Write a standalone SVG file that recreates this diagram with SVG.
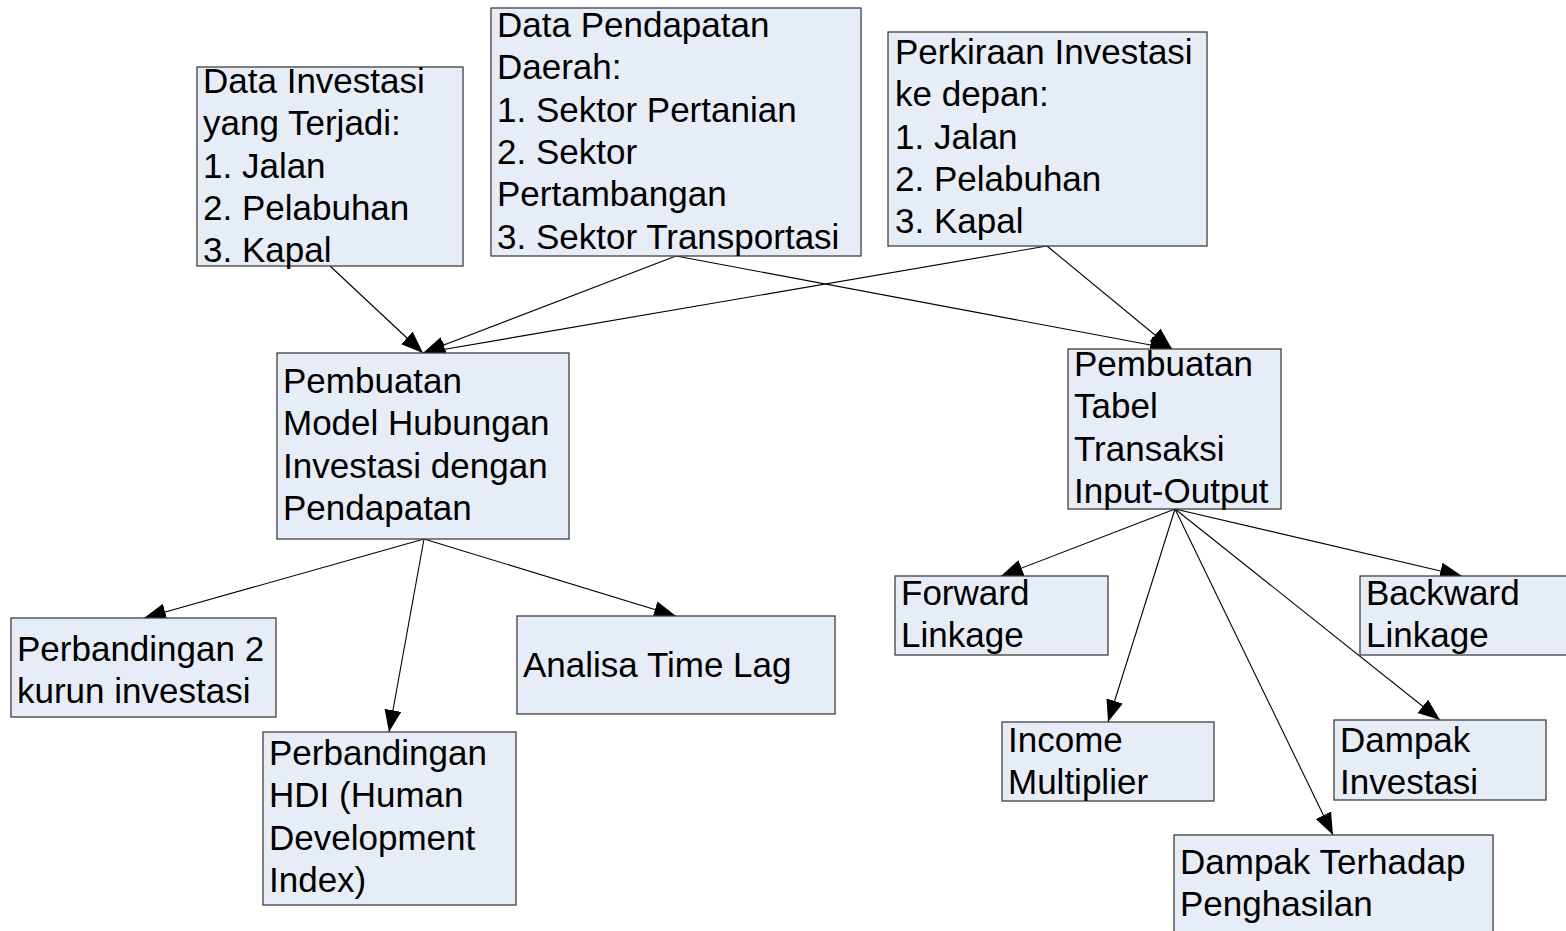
<svg xmlns="http://www.w3.org/2000/svg" width="1566" height="931" viewBox="0 0 1566 931">
  <style>
    .box { fill: #E7EDF7; stroke: #3F3F3F; stroke-width: 1.3; }
    .lbl { font-family: "Liberation Sans", Arial, sans-serif; font-size: 35px; fill: #000; }
    .edge { fill: none; stroke: #000; stroke-width: 1.1; marker-end: url(#head); }
  </style>
  <defs>
    <marker id="head" markerUnits="userSpaceOnUse" markerWidth="24" markerHeight="18" refX="22" refY="8.5" orient="auto">
      <path d="M0,0 L22,8.5 L0,17 Z" fill="#000"/>
    </marker>
  </defs>
  <rect width="1566" height="931" fill="#FFFFFF"/>

  <!-- connectors -->
  <g id="connectors">
    <line class="edge" x1="330" y1="266" x2="423" y2="353"/>
    <line class="edge" x1="676" y1="256" x2="423" y2="353"/>
    <line class="edge" x1="1047" y1="246" x2="423" y2="353"/>
    <line class="edge" x1="676" y1="256" x2="1172" y2="349"/>
    <line class="edge" x1="1047" y1="246" x2="1172" y2="349"/>
    <line class="edge" x1="424" y1="539" x2="144" y2="618"/>
    <line class="edge" x1="424" y1="539" x2="389" y2="732"/>
    <line class="edge" x1="424" y1="539" x2="676" y2="616"/>
    <line class="edge" x1="1175" y1="509" x2="1001" y2="576"/>
    <line class="edge" x1="1175" y1="509" x2="1108" y2="722"/>
    <line class="edge" x1="1175" y1="509" x2="1333" y2="835"/>
    <line class="edge" x1="1175" y1="509" x2="1440" y2="720"/>
    <line class="edge" x1="1175" y1="509" x2="1462" y2="576"/>
  </g>

  <!-- source data -->
  <g id="data-investasi">
    <rect class="box" x="197" y="67" width="266" height="199"/>
    <text class="lbl" x="203" y="93">Data Investasi</text>
    <text class="lbl" x="203" y="135.3">yang Terjadi:</text>
    <text class="lbl" x="203" y="177.6">1. Jalan</text>
    <text class="lbl" x="203" y="219.9">2. Pelabuhan</text>
    <text class="lbl" x="203" y="262.2">3. Kapal</text>
  </g>
  <g id="data-pendapatan">
    <rect class="box" x="491" y="8" width="370" height="248"/>
    <text class="lbl" x="497" y="37">Data Pendapatan</text>
    <text class="lbl" x="497" y="79.3">Daerah:</text>
    <text class="lbl" x="497" y="121.6">1. Sektor Pertanian</text>
    <text class="lbl" x="497" y="163.9">2. Sektor</text>
    <text class="lbl" x="497" y="206.2">Pertambangan</text>
    <text class="lbl" x="497" y="248.5">3. Sektor Transportasi</text>
  </g>
  <g id="perkiraan-investasi">
    <rect class="box" x="888" y="32" width="319" height="214"/>
    <text class="lbl" x="895" y="64">Perkiraan Investasi</text>
    <text class="lbl" x="895" y="106.3">ke depan:</text>
    <text class="lbl" x="895" y="148.6">1. Jalan</text>
    <text class="lbl" x="895" y="190.9">2. Pelabuhan</text>
    <text class="lbl" x="895" y="233.2">3. Kapal</text>
  </g>

  <!-- processing -->
  <g id="model-hubungan">
    <rect class="box" x="277" y="353" width="292" height="186"/>
    <text class="lbl" x="283" y="393">Pembuatan</text>
    <text class="lbl" x="283" y="435.3">Model Hubungan</text>
    <text class="lbl" x="283" y="477.6">Investasi dengan</text>
    <text class="lbl" x="283" y="519.9">Pendapatan</text>
  </g>
  <g id="tabel-io">
    <rect class="box" x="1068" y="349" width="213" height="160"/>
    <text class="lbl" x="1074" y="376">Pembuatan</text>
    <text class="lbl" x="1074" y="418.3">Tabel</text>
    <text class="lbl" x="1074" y="460.6">Transaksi</text>
    <text class="lbl" x="1074" y="502.9">Input-Output</text>
  </g>

  <!-- left outputs -->
  <g id="perbandingan-kurun">
    <rect class="box" x="11" y="618" width="265" height="99"/>
    <text class="lbl" x="17" y="661">Perbandingan 2</text>
    <text class="lbl" x="17" y="703.3">kurun investasi</text>
  </g>
  <g id="perbandingan-hdi">
    <rect class="box" x="263" y="732" width="253" height="173"/>
    <text class="lbl" x="269" y="765">Perbandingan</text>
    <text class="lbl" x="269" y="807.3">HDI (Human</text>
    <text class="lbl" x="269" y="849.6">Development</text>
    <text class="lbl" x="269" y="891.9">Index)</text>
  </g>
  <g id="analisa-time-lag">
    <rect class="box" x="517" y="616" width="318" height="98"/>
    <text class="lbl" x="523" y="677">Analisa Time Lag</text>
  </g>

  <!-- right outputs -->
  <g id="forward-linkage">
    <rect class="box" x="895" y="576" width="213" height="79"/>
    <text class="lbl" x="901" y="605">Forward</text>
    <text class="lbl" x="901" y="647.3">Linkage</text>
  </g>
  <g id="backward-linkage">
    <rect class="box" x="1360" y="576" width="210" height="79"/>
    <text class="lbl" x="1366" y="605">Backward</text>
    <text class="lbl" x="1366" y="647.3">Linkage</text>
  </g>
  <g id="income-multiplier">
    <rect class="box" x="1002" y="722" width="212" height="79"/>
    <text class="lbl" x="1008" y="752">Income</text>
    <text class="lbl" x="1008" y="794.3">Multiplier</text>
  </g>
  <g id="dampak-investasi">
    <rect class="box" x="1334" y="720" width="212" height="80"/>
    <text class="lbl" x="1340" y="752">Dampak</text>
    <text class="lbl" x="1340" y="794.3">Investasi</text>
  </g>
  <g id="dampak-penghasilan">
    <rect class="box" x="1174" y="835" width="319" height="100"/>
    <text class="lbl" x="1180" y="874">Dampak Terhadap</text>
    <text class="lbl" x="1180" y="916.3">Penghasilan</text>
  </g>
</svg>
